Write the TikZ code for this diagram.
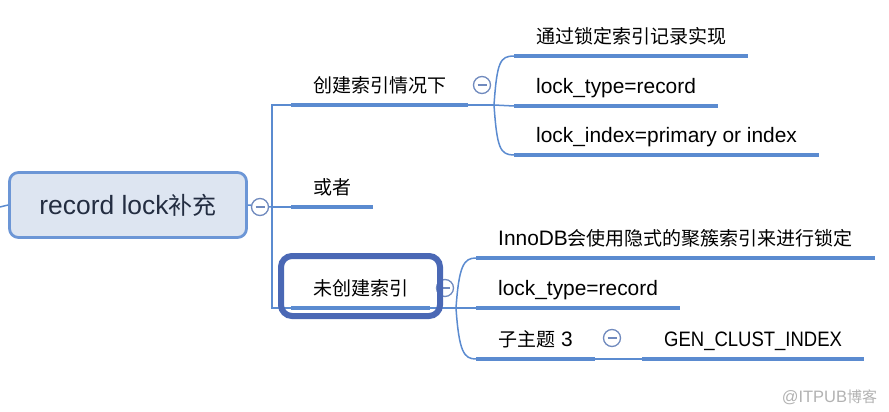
\documentclass[tikz,border=0pt]{standalone}
\usepackage{fontspec}
\setmainfont[Scale=1.1]{Liberation Sans}
\newfontfamily\cjk{Noto Sans CJK SC}
\newfontfamily\capsfont[Scale=1.1, FakeStretch=0.885]{Liberation Sans}
\usetikzlibrary{positioning,calc}
\definecolor{MapBlue}{RGB}{91,139,208}
\definecolor{RootFill}{RGB}{221,229,241}
\definecolor{RootLine}{RGB}{108,150,214}
\definecolor{RootText}{RGB}{35,45,65}
\definecolor{SelBlue}{RGB}{74,104,181}
\definecolor{FoldGray}{RGB}{112,138,190}

\begin{document}
\begin{tikzpicture}[x=1pt, y=-1pt, every node/.style={font=\fontsize{19}{22}\selectfont},
  topic/.style={anchor=south west, inner xsep=22pt, inner ysep=7pt, text height=15pt, text depth=5pt},
  bar/.style={MapBlue, line width=4.8pt},
  link/.style={MapBlue, line width=1.5pt},
  fold/.style={circle, draw=FoldGray, fill=white, line width=1.3pt, minimum size=17pt, inner sep=0pt,
    path picture={\draw[FoldGray, line width=1.3pt] ([xshift=-4.5pt]path picture bounding box.center) -- ([xshift=4.5pt]path picture bounding box.center);}}]
\useasboundingbox (0,0) rectangle (889,412);

% central topic
\node[draw=RootLine, fill=RootFill, line width=2.8pt, rounded corners=9pt, minimum width=237pt, minimum height=65pt, text=RootText, font=\fontsize{24}{28}\selectfont] (root) at (128,205) {record lock{\cjk 补充}};
\coordinate (tail) at (0,207);
\coordinate (hub) at (272,207);

% main branches
\node[topic] (b1) at (291,105) {{\cjk 创建索引情况下}};
\node[topic] (b2) at (291,207) {{\cjk 或者}};
\node[topic] (b3) at (291,308) {{\cjk 未创建索引}};

% subtopics
\node[topic] (l1) at (514,56) {{\cjk 通过锁定索引记录实现}};
\node[topic] (l2) at (514,106) {lock\_type=record};
\node[topic] (l3) at (514,155) {lock\_index=primary or index};
\node[topic] (m1) at (476,258) {InnoDB{\cjk 会使用隐式的聚簇索引来进行锁定}};
\node[topic] (m2) at (476,308) {lock\_type=record};
\node[topic] (m3) at (476,359) {{\cjk 子主题} 3};
\node[topic] (g1) at (642,359) {{\capsfont GEN\_CLUST\_INDEX}};
\coordinate (k1) at (494,105);
\coordinate (k3) at (456,308);

% connectors
\draw[link] (tail) -- (root.west);
\draw[link] (root.east) -- (hub);
\draw[link] (hub) |- (b1.south west);
\draw[link] (hub) |- (b3.south west);
\draw[link] (hub) -- (b2.south west);
\draw[link] (b1.south east) -- (k1);
\draw[link] (k1) .. controls +(3,-43) and +(-14,0) .. (l1.south west);
\draw[link] (k1) -- (l2.south west);
\draw[link] (k1) .. controls +(3,43) and +(-14,0) .. (l3.south west);
\draw[link] (b3.south east) -- (k3);
\draw[link] (k3) .. controls +(3,-43) and +(-12,0) .. (m1.south west);
\draw[link] (k3) -- (m2.south west);
\draw[link] (k3) .. controls +(3,44) and +(-12,0) .. (m3.south west);
\draw[link] (m3.south east) -- (g1.south west);
\foreach \t in {b1,b2,b3,l1,l2,l3,m1,m2,m3,g1}
  \draw[bar] (\t.south west) -- (\t.south east);

% fold buttons
\node[fold] (f0) at (260,207) {};
\node[fold] (f1) at (482,85) {};
\node[fold] (f3) at (445,288) {};
\node[fold] (f4) at (612,338) {};

% selection frame
\node[draw=SelBlue, line width=6pt, rounded corners=11pt, minimum width=159pt, minimum height=60pt] (sel) at (360.5,286) {};

\node[text=gray!60, font=\fontsize{15}{18}\selectfont, anchor=east] (mark) at (881,397) {@ITPUB{\cjk 博客}};
\end{tikzpicture}
\end{document}
